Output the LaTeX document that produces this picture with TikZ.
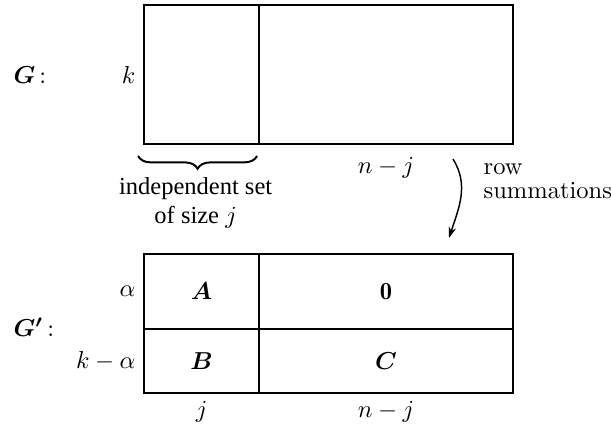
\documentclass[tikz,border=0pt]{standalone}
\usepackage{amsmath}
\usepackage{amssymb}
\usepackage{fontspec}
\newfontfamily\timesfont{Liberation Serif}
\usetikzlibrary{positioning, arrows.meta, decorations.pathreplacing}

\begin{document}
\begin{tikzpicture}[
  x=0.408pt, y=-0.408pt,
  cell/.style={draw, thick, inner sep=0pt, outer sep=0pt, minimum width=46.92pt},
  wcell/.style={draw, thick, inner sep=0pt, outer sep=0pt, minimum width=103.63pt},
  brc/.style={thick, decorate, decoration={brace, mirror, amplitude=5.2pt}},
  arr/.style={-{Stealth[length=4.5pt, width=3pt]}, semithick}
]
  \useasboundingbox (0,0) rectangle (611,430);

  % Matrix G
  \node[cell, minimum height=56.71pt, anchor=north west] (gl) at (144,5) {};
  \node[wcell, minimum height=56.71pt, right=0pt of gl] (gr) {};
  \node[anchor=west] (gname) at (5,75) {$\boldsymbol{G}\,{:}$};
  \node[left=0pt of gl] (klab) {$k$};

  % Brace under the independent set
  \draw[brc] ([xshift=-2.4pt, yshift=-4.9pt]gl.south west) -- ([xshift=-0.8pt, yshift=-4.9pt]gl.south east);
  \node[below=10pt of gl, xshift=-2.4pt, align=center, font=\timesfont] (indep)
    {independent set\\of size $j$};
  \node[below=2pt of gr] (nj) {$n-j$};

  % Row summations arrow
  \coordinate (rs) at (453,159);
  \coordinate (re) at (449,238);
  \draw[arr] (rs) to[out=-58, in=72] (re);
  \node[anchor=west, align=left] (rsum) at (475,181) {row\\[-2pt]summations};

  % Matrix G'
  \node[cell, minimum height=30.6pt, anchor=north west] (ga) at (144,254) {$\boldsymbol{A}$};
  \node[wcell, minimum height=30.6pt, right=0pt of ga] (gz) {$\mathbf{0}$};
  \node[cell, minimum height=26.11pt, below=0pt of ga] (gb) {$\boldsymbol{B}$};
  \node[wcell, minimum height=26.11pt, right=0pt of gb] (gc) {$\boldsymbol{C}$};
  \node[anchor=west] (gpname) at (5,327) {$\boldsymbol{G'}\,{:}$};
  \node[left=0pt of ga] (alab) {$\alpha$};
  \node[left=0pt of gb] (kalab) {$k-\alpha$};
  \node[below=0pt of gb] (jlab) {$j$};
  \node[below=0pt of gc] (njlab) {$n-j$};
\end{tikzpicture}
\end{document}
